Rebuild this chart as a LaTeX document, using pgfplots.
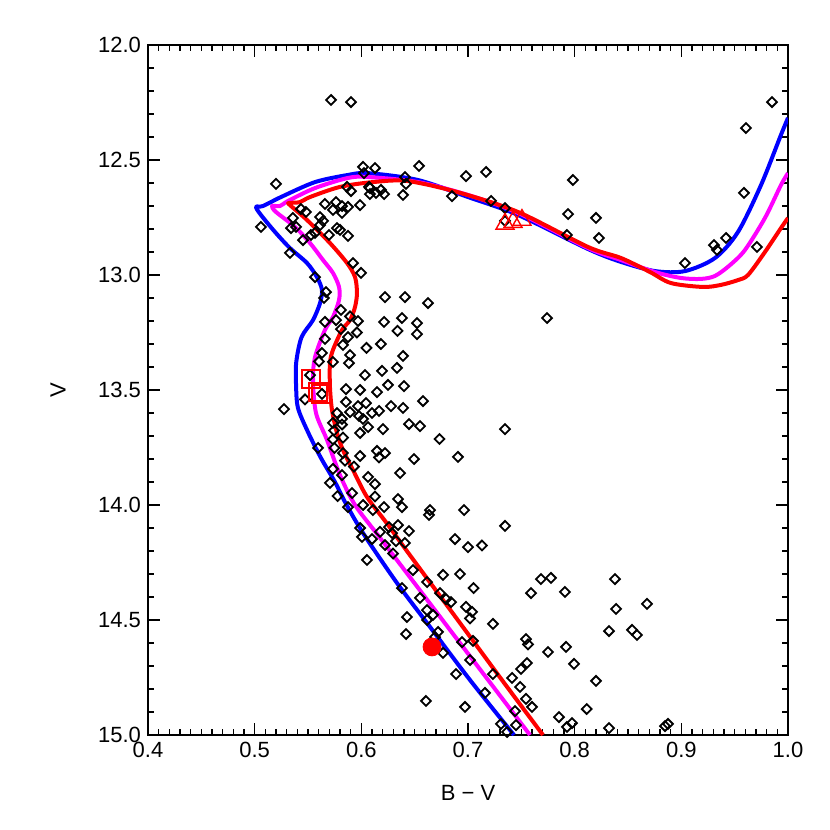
\documentclass[border=0pt]{standalone}
\usepackage{fontspec}
\setmainfont{Liberation Sans}
\usepackage{pgfplots}
\usepackage{pgfplotstable}
\pgfplotsset{compat=1.18}
\definecolor{idlmag}{rgb}{1,0,1}
\definecolor{idlblue}{rgb}{0,0,1}
\definecolor{idlred}{rgb}{1,0,0}

\pgfplotstableread{
x y
0.5716 12.239
0.5903 12.248
0.5200 12.604
0.9850 12.248
0.9606 12.361
0.9587 12.643
0.8200 12.752
0.8228 12.839
0.9034 12.948
0.9306 12.870
0.9334 12.891
0.9419 12.839
0.9709 12.878
0.6128 12.535
0.6541 12.526
0.6409 12.574
0.6981 12.570
0.7169 12.552
0.7984 12.587
0.7938 12.735
0.7928 12.826
0.6850 12.657
0.6391 12.652
0.7216 12.678
0.7347 12.709
0.7347 12.765
0.6081 12.622
0.6184 12.630
0.6213 12.648
0.6138 12.643
0.5059 12.791
0.5331 12.904
0.6016 12.530
0.6025 12.557
0.6419 12.604
0.5866 12.617
0.5903 12.635
0.6072 12.617
0.6081 12.648
0.5988 12.696
0.5875 12.704
0.5819 12.700
0.5763 12.683
0.5734 12.717
0.5819 12.730
0.5659 12.691
0.5481 12.726
0.5434 12.713
0.5359 12.752
0.5388 12.791
0.5613 12.748
0.5641 12.765
0.5613 12.783
0.5566 12.817
0.5453 12.848
0.5528 12.826
0.5697 12.826
0.5772 12.796
0.5800 12.804
0.5875 12.830
0.5922 12.948
0.5997 12.991
0.5341 12.796
0.5566 13.009
0.5669 13.074
0.5650 13.100
0.6222 13.096
0.6409 13.096
0.6625 13.122
0.5809 13.152
0.5894 13.180
0.5969 13.200
0.6213 13.204
0.6381 13.187
0.6522 13.209
0.5659 13.204
0.5763 13.196
0.5809 13.235
0.6339 13.243
0.5959 13.250
0.6522 13.257
0.5875 13.270
0.6048 13.317
0.6184 13.300
0.6391 13.352
0.5894 13.348
0.5631 13.339
0.5659 13.278
0.5828 13.304
0.5603 13.376
0.5734 13.378
0.5884 13.383
0.6034 13.435
0.6194 13.417
0.6334 13.404
0.6400 13.483
0.6250 13.478
0.6147 13.509
0.5988 13.500
0.5856 13.496
0.5519 13.435
0.5631 13.517
0.5472 13.541
0.6578 13.548
0.5856 13.552
0.6044 13.557
0.5969 13.570
0.5894 13.596
0.6166 13.591
0.6100 13.600
0.6278 13.570
0.6391 13.578
0.5978 13.613
0.6016 13.626
0.5772 13.600
0.5819 13.626
0.5819 13.650
0.5734 13.643
0.5744 13.676
0.6063 13.661
0.6203 13.670
0.5988 13.687
0.6447 13.648
0.6550 13.657
0.6733 13.713
0.6906 13.791
0.5828 13.707
0.5734 13.715
0.5594 13.752
0.5748 13.752
0.5828 13.774
0.5988 13.787
0.6147 13.765
0.6222 13.774
0.6166 13.793
0.6494 13.800
0.5847 13.807
0.5931 13.833
0.5734 13.843
0.5819 13.870
0.6063 13.878
0.6363 13.861
0.5706 13.904
0.6128 13.909
0.5777 13.961
0.5913 13.948
0.6128 13.963
0.6344 13.974
0.7741 13.187
0.7347 13.670
0.5275 13.583
0.5875 14.009
0.6016 14.000
0.6109 14.022
0.6213 14.009
0.6381 14.009
0.6644 14.022
0.6634 14.043
0.6963 14.022
0.7347 14.091
0.5988 14.100
0.6006 14.139
0.6100 14.148
0.6175 14.117
0.6259 14.096
0.6344 14.087
0.6288 14.122
0.6447 14.113
0.6325 14.157
0.6409 14.165
0.6222 14.174
0.6297 14.211
0.6878 14.148
0.7000 14.183
0.7131 14.176
0.6053 14.239
0.6484 14.283
0.6616 14.335
0.6766 14.304
0.6925 14.300
0.7052 14.361
0.6381 14.361
0.6550 14.404
0.6738 14.383
0.6794 14.409
0.6841 14.422
0.6616 14.457
0.6672 14.478
0.6981 14.443
0.7038 14.465
0.7019 14.493
0.7234 14.517
0.6428 14.487
0.6616 14.500
0.6419 14.561
0.6719 14.552
0.6691 14.574
0.7047 14.591
0.6944 14.596
0.6766 14.643
0.7019 14.674
0.7544 14.583
0.7563 14.606
0.7553 14.687
0.7497 14.713
0.7413 14.752
0.7234 14.735
0.6888 14.735
0.7684 14.322
0.7778 14.317
0.7591 14.383
0.7909 14.378
0.7750 14.639
0.7919 14.617
0.7994 14.691
0.7488 14.791
0.7544 14.843
0.7600 14.878
0.7853 14.922
0.7928 14.965
0.7975 14.948
0.8113 14.887
0.7441 14.896
0.7450 14.957
0.7309 14.952
0.7366 14.987
0.6606 14.852
0.6972 14.878
0.7159 14.817
0.8378 14.322
0.8388 14.452
0.8678 14.430
0.8322 14.548
0.8538 14.543
0.8584 14.565
0.8200 14.765
0.8322 14.970
0.8847 14.961
0.8875 14.952
}\stars

\begin{document}
\begin{tikzpicture}
\begin{axis}[
  at={(0,0)}, anchor=south west,
  scale only axis, width=320pt, height=345pt,
  xmin=0.4, xmax=1.0, ymin=12.0, ymax=15.0, y dir=reverse,
  xtick={0.4,0.5,0.6,0.7,0.8,0.9,1.0},
  ytick={12.0,12.5,13.0,13.5,14.0,14.5,15.0},
  minor x tick num=9, minor y tick num=4,
  tick align=inside,
  major tick length=6pt, minor tick length=3pt,
  every tick/.style={black, line width=0.6pt},
  axis line style={black, line width=0.7pt},
  /pgf/number format/.cd, fixed, fixed zerofill, precision=1, assume math mode=true,
  /pgfplots/.cd,
  tick label style={font=\fontsize{11}{13}\selectfont},
  label style={font=\fontsize{11}{13}\selectfont},
  xlabel={B − V}, ylabel={V},
  xlabel style={yshift=-7pt},
  ylabel style={at={(axis description cs:-0.1406,0.5)}, anchor=center},
]
\addplot[only marks, mark=square, mark size=1.75pt,
  mark options={rotate=45, line width=0.9pt, black, fill=none}] table[x=x,y=y] {\stars};

\addplot[idlblue, line width=2pt, line join=round, smooth, tension=0.5] coordinates {
(0.7431,15.0) (0.7019,14.761) (0.6644,14.530) (0.6334,14.339) (0.6016,14.122)
(0.5847,13.987) (0.5753,13.900) (0.5622,13.796) (0.5500,13.683) (0.5406,13.578)
(0.5388,13.478) (0.5390,13.378) (0.5440,13.270) (0.5547,13.196) (0.5613,13.122)
(0.5631,13.065) (0.5584,13.009) (0.5491,12.948) (0.5331,12.883) (0.5191,12.813)
(0.5059,12.739) (0.5013,12.704) (0.5078,12.700) (0.5247,12.661) (0.5566,12.596)
(0.5875,12.565) (0.6063,12.557) (0.6531,12.587) (0.7000,12.661) (0.7469,12.739)
(0.8125,12.887) (0.8434,12.943) (0.8753,12.983) (0.9034,12.983) (0.9316,12.926)
(0.9531,12.813) (0.9747,12.609) (0.9934,12.391) (1.0,12.317)
};
\addplot[idlmag, line width=2pt, line join=round, smooth, tension=0.5] coordinates {
(0.7581,15.0) (0.7189,14.761) (0.6854,14.557) (0.6548,14.370) (0.6169,14.139)
(0.5941,14.0) (0.5800,13.870) (0.5678,13.717) (0.5575,13.600) (0.5547,13.457)
(0.5566,13.357) (0.5659,13.239) (0.5734,13.183) (0.5791,13.109) (0.5791,13.052)
(0.5734,12.991) (0.5641,12.935) (0.5519,12.861) (0.5378,12.791) (0.5200,12.726)
(0.5163,12.700) (0.5238,12.700) (0.5313,12.678) (0.5566,12.622) (0.5875,12.578)
(0.6063,12.574) (0.6531,12.596) (0.7000,12.652) (0.7469,12.730) (0.8125,12.883)
(0.8434,12.935) (0.8753,12.987) (0.8997,13.013) (0.9184,13.017) (0.9316,13.004)
(0.9456,12.957) (0.9597,12.891) (0.9784,12.752) (0.9934,12.609) (1.0,12.557)
};
\addplot[idlred, line width=2pt, line join=round, smooth, tension=0.5] coordinates {
(0.7703,15.0) (0.7301,14.750) (0.6904,14.500) (0.6427,14.200) (0.6240,14.080)
(0.6053,13.965) (0.5922,13.848) (0.5828,13.761) (0.5772,13.687) (0.5725,13.587)
(0.5706,13.487) (0.5706,13.383) (0.5734,13.326) (0.5819,13.239) (0.5894,13.196)
(0.5941,13.139) (0.5959,13.078) (0.5941,13.009) (0.5866,12.948) (0.5706,12.861)
(0.5491,12.761) (0.5331,12.696) (0.5322,12.687) (0.5425,12.683) (0.5519,12.661)
(0.5800,12.617) (0.6109,12.596) (0.6428,12.591) (0.6897,12.639) (0.7469,12.726)
(0.8125,12.878) (0.8434,12.926) (0.8706,12.987) (0.8903,13.035) (0.9203,13.052)
(0.9372,13.043) (0.9531,13.022) (0.9625,13.0) (0.9784,12.900) (0.9934,12.796)
(1.0,12.752)
};

\addplot[only marks, mark=square, mark size=4.5pt, idlred,
  mark options={line width=0.7pt, fill=none}] coordinates {
(0.5528,13.452) (0.5594,13.509) (0.5622,13.517)
};
\addplot[only marks, mark=triangle, mark size=5.2pt, idlred,
  mark options={line width=0.7pt, fill=none}] coordinates {
(0.7347,12.778) (0.7422,12.770) (0.7506,12.761)
};
\addplot[only marks, mark=*, mark size=4.5pt, idlred,
  mark options={draw=idlred, fill=idlred}] coordinates {
(0.6663,14.617)
};
\end{axis}
\pgfresetboundingbox
\path (-74pt,-47.5pt) rectangle (341pt,367.5pt);
\end{tikzpicture}
\end{document}
